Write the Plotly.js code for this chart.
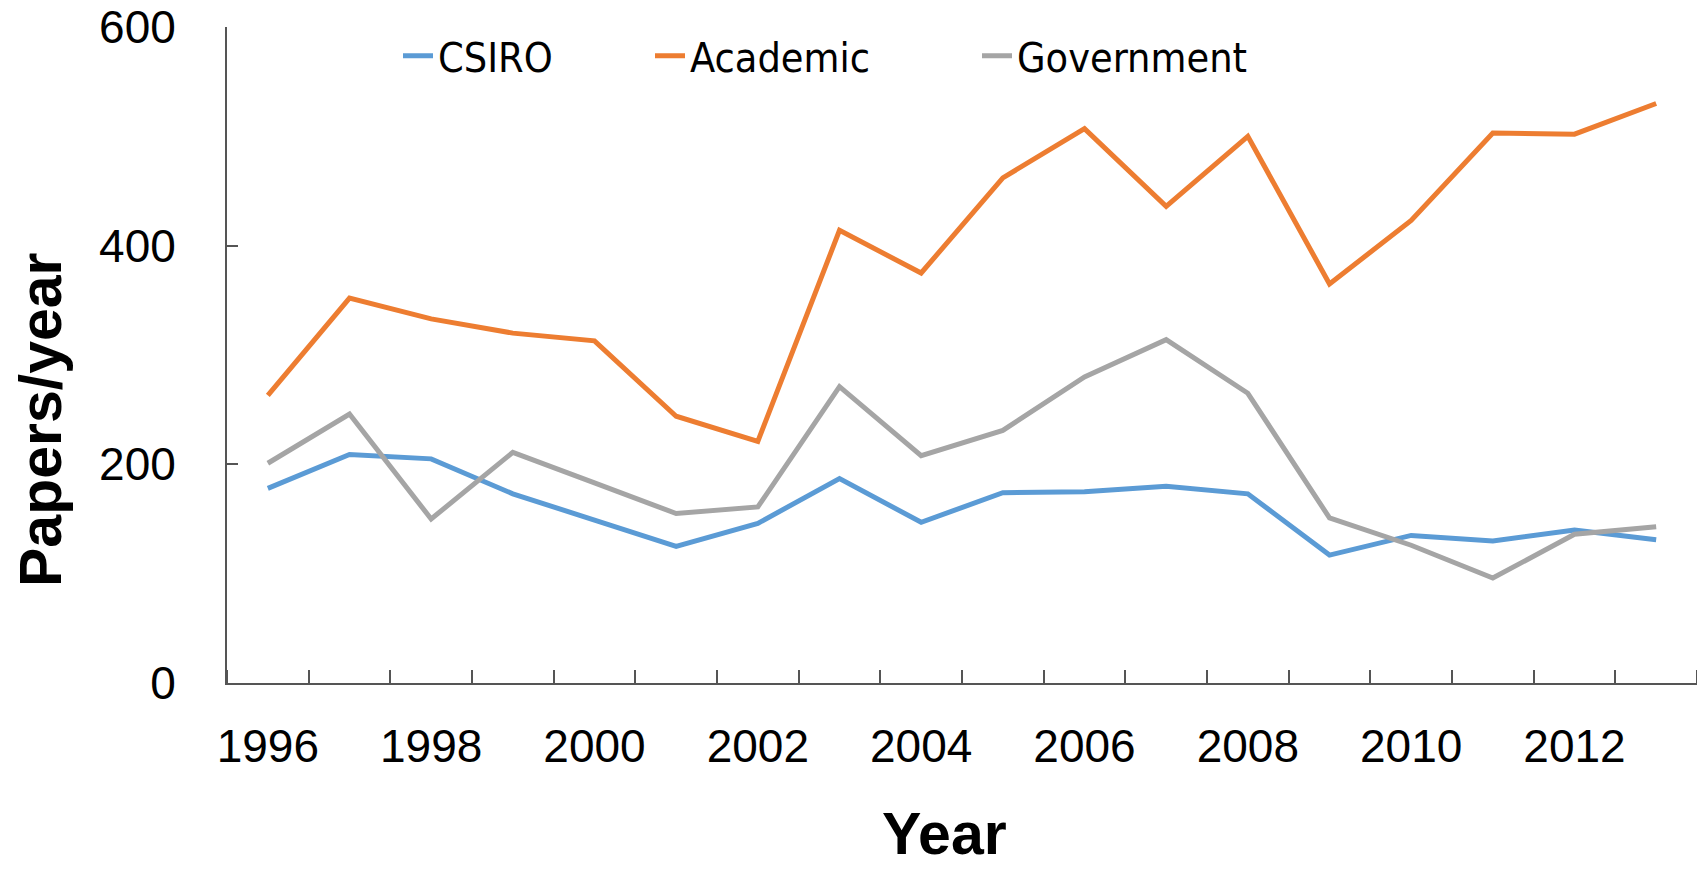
<!DOCTYPE html>
<html>
<head>
<meta charset="utf-8">
<script src="https://cdn.plot.ly/plotly-3.0.1.min.js"></script>
<style>
  html, body { margin: 0; padding: 0; background: #ffffff; }
  #chart { width: 1697px; height: 870px; }
</style>
</head>
<body>
<div id="chart"></div>
<script>
// ---- data ----
const years = [1996, 1997, 1998, 1999, 2000, 2001, 2002, 2003, 2004, 2005, 2006, 2007, 2008, 2009, 2010, 2011, 2012, 2013];
const csiro = [178, 209, 205, 173, 149, 125, 146, 187, 147, 174, 175, 180, 173, 117, 135, 130, 140, 131];
const academic = [263, 352, 333, 320, 313, 244, 221, 414, 375, 462, 507, 436, 500, 365, 423, 503, 502, 530];
const government = [201, 246, 150, 211, 183, 155, 161, 271, 208, 231, 280, 314, 265, 151, 126, 96, 136, 143];
const seriesNames = ["CSIRO", "Academic", "Government"];
const xTickVals = [1996, 1998, 2000, 2002, 2004, 2006, 2008, 2010, 2012];
const xTickText = ["1996", "1998", "2000", "2002", "2004", "2006", "2008", "2010", "2012"];
const yTickVals = [0, 200, 400, 600];
const yTickText = ["0", "200", "400", "600"];
const xTitle = "Year";
const yTitle = "Papers/year";

const colors = ["#5B9BD5", "#ED7D31", "#A5A5A5"];
const values = [csiro, academic, government];
const legendIds = ["legend", "legend2", "legend3"];

const traces = values.map((v, i) => ({
  type: "scatter",
  mode: "lines",
  x: years,
  y: v,
  name: seriesNames[i],
  legend: legendIds[i],
  line: { color: colors[i], width: 5 },
  hoverinfo: "x+y+name"
}));

const axisColor = "#555555";
const tickFont = { family: "Liberation Sans, Arial, sans-serif", size: 46, color: "#000000" };
const titleFont = { family: "Liberation Sans, Arial, sans-serif", size: 59, color: "#000000", weight: "bold" };
const legendFont = { family: "DejaVu Sans Condensed, Liberation Sans, sans-serif", size: 41, color: "#000000" };

// plot area: left 227 px, width 1470 px, top 27 px, height 656 px
const plotL = 227, plotW = 1470, plotT = 27, plotH = 656;
const legendTextStarts = [438, 690, 1017];
function legendBox(px) {
  return {
    orientation: "h",
    xref: "paper",
    yref: "paper",
    x: (px - 40 - plotL) / plotW,
    xanchor: "left",
    y: 1 - (56 - plotT) / plotH,
    yanchor: "middle",
    font: legendFont,
    bgcolor: "rgba(0,0,0,0)",
    borderwidth: 0
  };
}

const layout = {
  width: 1697,
  height: 870,
  paper_bgcolor: "#ffffff",
  plot_bgcolor: "#ffffff",
  margin: { l: plotL, r: 0, t: plotT, b: 187, pad: 0 },
  showlegend: true,
  legend: legendBox(legendTextStarts[0]),
  legend2: legendBox(legendTextStarts[1]),
  legend3: legendBox(legendTextStarts[2]),
  xaxis: {
    type: "linear",
    range: [1995.5, 2013.5],
    tickmode: "array",
    tickvals: xTickVals,
    ticktext: xTickText,
    ticks: "",
    ticklabelstandoff: 22,
    tickfont: tickFont,
    showgrid: false,
    zeroline: false,
    showline: true,
    linecolor: axisColor,
    linewidth: 2,
    minor: {
      tickmode: "linear",
      tick0: 1995.5,
      dtick: 1,
      ticks: "inside",
      ticklen: 13,
      tickwidth: 2,
      tickcolor: axisColor,
      showgrid: false
    },
    fixedrange: true,
    automargin: false,
    title: { text: "", font: titleFont }
  },
  yaxis: {
    range: [0, 600],
    tickmode: "array",
    tickvals: yTickVals,
    ticktext: yTickText,
    ticks: "inside",
    ticklen: 11,
    tickwidth: 2,
    tickcolor: axisColor,
    ticklabelstandoff: 40,
    tickfont: tickFont,
    showgrid: false,
    zeroline: false,
    showline: true,
    linecolor: axisColor,
    linewidth: 2,
    fixedrange: true,
    automargin: false,
    title: { text: "", font: titleFont }
  },
  annotations: [
    {
      text: xTitle,
      font: titleFont,
      xref: "paper", yref: "paper",
      x: (944 - plotL) / plotW, y: -(834 - plotT - plotH) / plotH,
      xanchor: "center", yanchor: "middle",
      showarrow: false
    },
    {
      text: yTitle,
      font: titleFont,
      textangle: -90,
      xref: "paper", yref: "paper",
      x: (41 - plotL) / plotW, y: 1 - (420 - plotT) / plotH,
      xanchor: "center", yanchor: "middle",
      showarrow: false
    }
  ]
};

Plotly.newPlot("chart", traces, layout, { displayModeBar: false, responsive: false });
</script>
</body>
</html>
